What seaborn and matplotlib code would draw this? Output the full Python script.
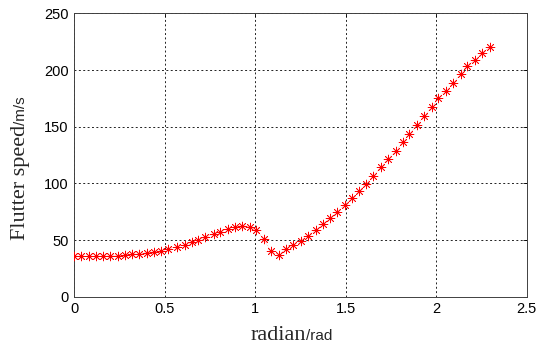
import numpy as np
import pandas as pd
import matplotlib
matplotlib.use("Agg")
import matplotlib.pyplot as plt
import seaborn as sns
from matplotlib.transforms import IdentityTransform

# datos
radian = [0.00, 0.04, 0.08, 0.12, 0.16, 0.20, 0.24, 0.28, 0.32, 0.36, 0.40, 0.44, 0.48, 0.52,
          0.565, 0.61, 0.65, 0.685, 0.725, 0.77, 0.805, 0.847, 0.888, 0.925, 0.97, 1.005,
          1.047, 1.086, 1.13, 1.17, 1.21, 1.25, 1.29, 1.334, 1.374, 1.413, 1.45, 1.493,
          1.533, 1.575, 1.61, 1.652, 1.693, 1.735, 1.776, 1.814, 1.85, 1.895, 1.934, 1.975,
          2.011, 2.054, 2.094, 2.135, 2.171, 2.214, 2.254, 2.297]
flutter_speed = [35.5, 35.5, 35.5, 35.6, 35.8, 36.0, 36.3, 36.8, 37.3, 38.0, 38.8, 39.7, 40.6, 41.8,
                 44.0, 46.0, 48.0, 50.0, 52.4, 55.3, 57.4, 59.8, 61.8, 62.8, 61.8, 58.5,
                 51.0, 40.0, 37.0, 42.0, 45.8, 49.5, 54.0, 58.5, 64.5, 69.2, 74.5, 80.9,
                 86.8, 93.0, 99.5, 106.5, 114.7, 121.5, 128.9, 136.3, 143.3, 151.5, 159.5, 167.2,
                 175.1, 181.8, 188.9, 196.3, 203.6, 208.9, 214.8, 220.7]
xticks = [0, 0.5, 1, 1.5, 2, 2.5]
xticklabels = ['0', '0.5', '1', '1.5', '2', '2.5']
yticks = [0, 50, 100, 150, 200, 250]

datos = pd.DataFrame({'radian': radian, 'speed': flutter_speed})

sns.set_style('white')
plt.rcParams['font.family'] = ['Liberation Sans', 'DejaVu Sans']

fig = plt.figure(figsize=(5.42, 3.44), dpi=100)
ax = fig.add_axes([0.137, 0.1375, 0.835, 0.8235])

sns.lineplot(data=datos, x='radian', y='speed', ax=ax, color='red', linewidth=0.5,
             linestyle=':', alpha=0.4, estimator=None, sort=False)
sns.scatterplot(data=datos, x='radian', y='speed', ax=ax, marker=(8, 2, 0), color='red',
                s=40, linewidth=0.55, zorder=3)

ax.set_xlim(0, 2.5)
ax.set_ylim(0, 250)
ax.set_xticks(xticks)
ax.set_xticklabels(xticklabels)
ax.set_yticks(yticks)
ax.set_xlabel('')
ax.set_ylabel('')
ax.grid(True, color='#222222', linestyle=(0, (2, 2.5)), linewidth=0.7)
ax.tick_params(direction='in', length=3, width=0.6, labelsize=10.5, colors='black',
               top=True, right=True, pad=4)
for s in ax.spines.values():
    s.set_visible(True)
    s.set_color('#404040')
    s.set_linewidth(0.7)

# etiquetas con dos fuentes (serif + sans pequena)
px = IdentityTransform()
tx1 = fig.text(0, 4, 'radian', transform=px, family='Liberation Serif', fontsize=16,
               ha='left', va='baseline')
tx2 = fig.text(0, 4, '/rad', transform=px, family='Liberation Sans', fontsize=11,
               ha='left', va='baseline')
ty1 = fig.text(25, 0, 'Flutter speed', transform=px, family='Liberation Serif', fontsize=16,
               rotation=90, rotation_mode='anchor', ha='left', va='baseline')
ty2 = fig.text(25, 0, '/m/s', transform=px, family='Liberation Sans', fontsize=11,
               rotation=90, rotation_mode='anchor', ha='left', va='baseline')
fig.canvas.draw()
r = fig.canvas.get_renderer()
w1 = tx1.get_window_extent(r).width
w2 = tx2.get_window_extent(r).width
x0 = 291 - (w1 + w2) / 2
tx1.set_position((x0, 4))
tx2.set_position((x0 + w1, 4))
h1 = ty1.get_window_extent(r).height
h2 = ty2.get_window_extent(r).height
y0 = 175.5 - (h1 + h2) / 2
ty1.set_position((25, y0))
ty2.set_position((25, y0 + h1))

fig.savefig('out.png', dpi=100)
